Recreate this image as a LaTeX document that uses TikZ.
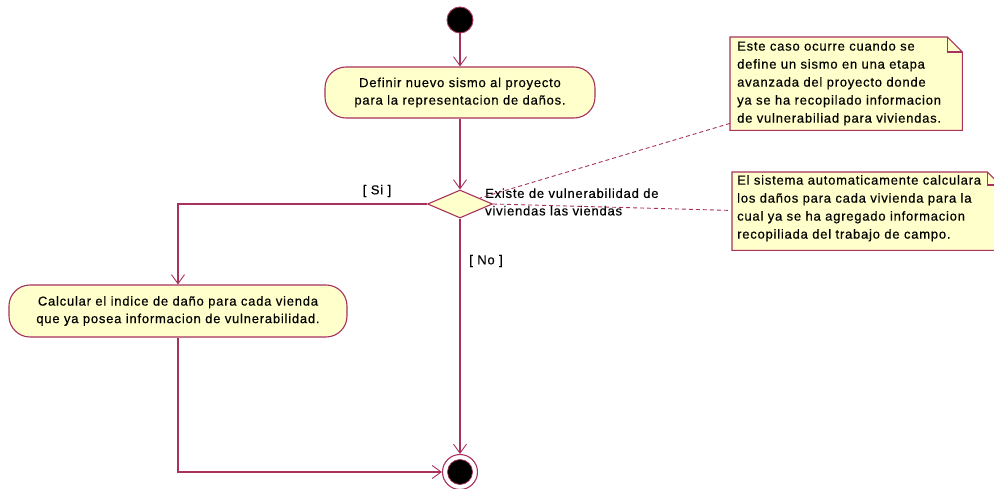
\documentclass[tikz,border=0pt]{standalone}
\usepackage{fontspec}
\setmainfont{Liberation Sans}[LetterSpace=6,FakeBold=0.4]
\usetikzlibrary{arrows.meta,shapes.geometric,calc}
\definecolor{umlred}{HTML}{A8325E}
\definecolor{umlfill}{HTML}{FFFFCC}
\begin{document}
\begin{tikzpicture}[x=1pt,y=-1pt,
  font=\fontsize{13}{17.5}\selectfont,
  flow/.style={draw=umlred,line width=1.1pt,-{Straight Barb[length=9pt,width=13pt,line width=0.9pt]}},
  actbox/.style={draw=umlred,fill=umlfill,line width=1.1pt,rounded corners=21pt,align=center,inner sep=0pt},
  decbox/.style={draw=umlred,fill=umlfill,line width=1.1pt,diamond,inner sep=0pt,minimum width=65pt,minimum height=28pt},
  notebox/.style={align=left,inner sep=0pt,anchor=north west},
  notelink/.style={draw=umlred,line width=0.9pt,dash pattern=on 4pt off 3pt},
  notefill/.style={draw=umlred,fill=umlfill,line width=1.1pt},
  guard/.style={inner sep=0pt}]
\clip (0,0) rectangle (994,489);
\fill[white] (0,0) rectangle (994,489);

% start / end
\node[circle,fill=black,draw=umlred,line width=0.9pt,minimum size=26pt,inner sep=0pt] (start) at (460,20) {};
\node[circle,draw=umlred,line width=1.1pt,minimum size=35pt,inner sep=0pt] (final) at (460,472) {};
\node[circle,fill=black,draw=umlred,line width=0.7pt,minimum size=25pt,inner sep=0pt] (finalin) at (460,472) {};

% activities
\node[actbox,minimum width=270pt,minimum height=51pt] (act1) at (460,92.5)
  {Definir nuevo sismo al proyecto\\para la representacion de daños.};
\node[actbox,minimum width=338pt,minimum height=52pt] (act2) at (178,311)
  {Calcular el indice de daño para cada vienda\\que ya posea informacion de vulnerabilidad.};

% decision
\node[decbox] (dec) at (460,204) {};
\node[notebox,anchor=west] (declabel) at (485,202)
  {Existe de vulnerabilidad de\\viviendas las viendas};

% guards
\node[guard] (si) at (377,191) {[ Si ]};
\node[guard] (no) at (486,261) {[ No ]};

% notes
\node[notebox,minimum width=232pt,minimum height=93pt] (note1) at (730,37) {};
\node[notebox,minimum width=270pt,minimum height=78pt] (note2) at (732,172) {};
\filldraw[notefill]
  (note1.north west) -- ($(note1.north east)+(-15,0)$) -- ($(note1.north east)+(0,15)$)
  -- (note1.south east) -- (note1.south west) -- cycle;
\draw[umlred,line width=1.1pt] ($(note1.north east)+(-15,0)$) -- ($(note1.north east)+(-15,15)$) -- ($(note1.north east)+(0,15)$);
\filldraw[notefill]
  (note2.north west) -- ($(note2.north east)+(-15,0)$) -- ($(note2.north east)+(0,15)$)
  -- (note2.south east) -- (note2.south west) -- cycle;
\draw[umlred,line width=1.1pt] ($(note2.north east)+(-15,0)$) -- ($(note2.north east)+(-15,13)$) -- ($(note2.north east)+(0,13)$);
\node[notebox,font=\fontsize{13}{18}\selectfont] (note1text) at (737,41)
  {Este caso ocurre cuando se\\define un sismo en una etapa\\avanzada del proyecto donde\\ya se ha recopilado informacion\\de vulnerabiliad para viviendas.};
\node[notebox,font=\fontsize{13}{18}\selectfont] (note2text) at (737,175)
  {El sistema automaticamente calculara\\los daños para cada vivienda para la\\cual ya se ha agregado informacion\\recopiliada del trabajo de campo.};

% flows
\draw[flow] (start) -- (act1);
\draw[flow] (act1) -- (dec);
\draw[flow] (dec.west) -| (act2.north);
\draw[flow] (dec.south) -- (final.north);
\draw[flow] (act2.south) |- (final.west);

% note links
\coordinate (n1a) at ($(note1.south west)+(0,-7)$);
\coordinate (n2a) at ($(note2.south west)+(-2,-40)$);
\draw[notelink] (n1a) -- (dec);
\draw[notelink] (dec.east) -- (n2a);
\end{tikzpicture}
\end{document}
